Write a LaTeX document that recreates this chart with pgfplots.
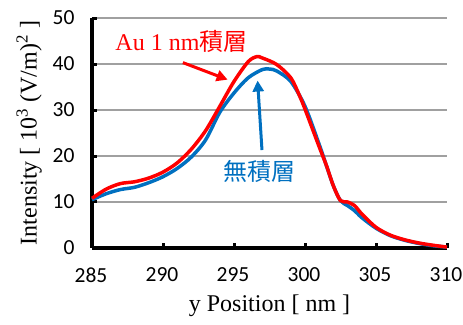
\documentclass[border=0pt]{standalone}
\usepackage{fontspec}
\setmainfont{Liberation Serif}
\newfontfamily\carlito{Carlito}
\newfontfamily\cjk{Noto Sans CJK JP}
\usepackage{pgfplots}
\pgfplotsset{compat=1.18}
\usetikzlibrary{arrows.meta}
\definecolor{xlblue}{RGB}{0,112,192}
\definecolor{xlred}{RGB}{255,0,0}
\definecolor{gridgray}{RGB}{160,160,160}
\begin{document}
\begin{tikzpicture}
\path[use as bounding box] (0,0) rectangle (463pt,324pt);
\begin{axis}[
  at={(92pt,76pt)}, anchor=south west,
  scale only axis, width=355pt, height=230pt,
  xmin=285, xmax=310, ymin=0, ymax=50,
  xtick={285,290,...,310}, ytick={0,10,...,50},
  axis lines=left, axis line style={line width=3.5pt, -},
  ymajorgrids, grid style={gridgray, line width=1.2pt},
  tick style={black, line width=3pt}, major tick length=5pt,
  tick align=inside,
  /pgf/number format/assume math mode=true,
  tick label style={font=\carlito\fontsize{21.5}{21.5}\selectfont},
  xticklabel style={yshift=-16pt, xshift=-1pt},
  yticklabel style={xshift=-14pt},
  xlabel={y Position [ nm ]},
  ylabel={Intensity [ 10\textsuperscript{3} (V/m)\textsuperscript{2} ]},
  label style={font=\fontsize{24}{24}\selectfont},
  xlabel style={yshift=-6pt},
  ylabel style={yshift=4pt},
  clip=false,
]
\addplot[xlblue, line width=3.5pt, smooth, tension=0.5] coordinates {
(285,10.5) (286,11.8) (287,12.7) (288,13.2) (289,14.2) (290,15.5) (291,17.3)
(292,19.8) (293,23.5) (294,29.5) (295,33.7) (296,37.0) (297,38.8) (297.5,38.9)
(298,38.5) (299,36.2) (300,30.8) (301,22.5) (301.5,18) (302,13.5) (302.5,10.3)
(303,9.2) (303.5,8.1) (304,6.6) (305,4.3) (306,2.7) (307,1.7) (308,1.0) (309,0.5) (310,0.2)
};
\addplot[xlred, line width=3.5pt, smooth, tension=0.5] coordinates {
(285,10.8) (286,12.8) (287,14.0) (288,14.4) (289,15.2) (290,16.5) (291,18.5)
(292,21.5) (293,25.5) (294,30.8) (295,36.2) (296,40.5) (296.6,41.6) (297,41.3)
(298,39.9) (299,37.0) (299.6,33.2) (300,30.2) (301,22) (301.5,18)
(302,13.5) (302.5,10.3) (303,10.0) (303.5,9.2) (304,7.4) (305,4.5) (306,2.8)
(307,1.8) (308,1.1) (309,0.6) (310,0.2)
};
\draw[xlred, line width=3pt, -{Triangle[length=11pt,width=11pt]}] (axis cs:291.4,40.3) -- (axis cs:294.55,36.6);
\draw[xlblue, line width=3pt, -{Triangle[length=11pt,width=11pt]}] (axis cs:296.97,21.3) -- (axis cs:296.66,36.4);
\node[xlred, font=\fontsize{24}{24}\selectfont, inner sep=0pt] at (axis cs:291.3,45.0) {Au 1 nm{\cjk 積層}};
\node[xlblue, font=\cjk\fontsize{24}{24}\selectfont, inner sep=0pt] at (axis cs:296.8,16.7) {無積層};
\end{axis}
\end{tikzpicture}
\end{document}
